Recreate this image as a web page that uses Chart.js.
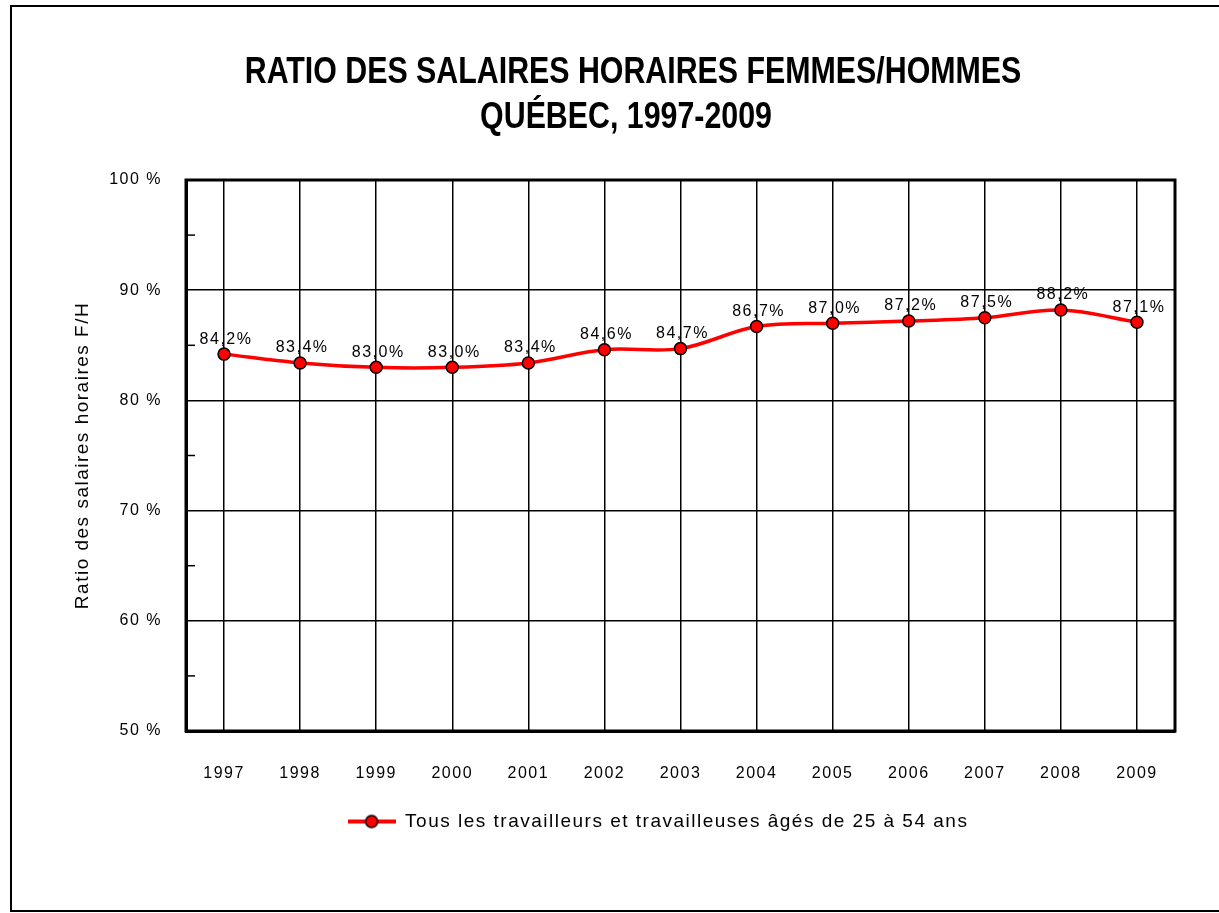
<!DOCTYPE html>
<html>
<head>
<meta charset="utf-8">
<script src="https://cdn.jsdelivr.net/npm/chart.js@4.4.0/dist/chart.umd.min.js"></script>
<style>
    html, body { margin: 0; padding: 0; background: #fff; }
    #wrap { width: 1219px; height: 913px; position: relative; }
</style>
</head>
<body>
<div id="wrap"><canvas id="ratioChart"></canvas></div>
<script>
// Données du graphique
const years = ['1997', '1998', '1999', '2000', '2001', '2002', '2003', '2004', '2005', '2006', '2007', '2008', '2009'];
const ratios = [84.2, 83.4, 83.0, 83.0, 83.4, 84.6, 84.7, 86.7, 87.0, 87.2, 87.5, 88.2, 87.1];
const yTicks = [50, 60, 70, 80, 90, 100];
const yMinorTicks = [55, 65, 75, 85, 95];
const seriesLabel = 'Tous les travailleurs et travailleuses âgés de 25 à 54 ans';
const titleLines = ['RATIO DES SALAIRES HORAIRES FEMMES/HOMMES', 'QUÉBEC, 1997-2009'];
const yTitle = 'Ratio des salaires horaires F/H';

const FONT = "'Liberation Sans', Arial, sans-serif";
const SPACING = '1.5px';

// Petit symbole de légende : ligne rouge + point
function legendMarker() {
    const c = document.createElement('canvas');
    c.width = 48;
    c.height = 16;
    const g = c.getContext('2d');
    g.strokeStyle = '#ff0000';
    g.lineWidth = 4;
    g.beginPath(); g.moveTo(0, 8); g.lineTo(48, 8); g.stroke();
    g.beginPath(); g.arc(24, 8, 6, 0, Math.PI * 2);
    g.fillStyle = '#ff0000'; g.fill();
    g.lineWidth = 1.5; g.strokeStyle = '#000'; g.stroke();
    return c;
}
const marker = legendMarker();

function centerBox(box, cx) {
    if (!box) return;
    const w = box.right - box.left;
    box.left = cx - w / 2;
    box.right = cx + w / 2;
}

// titre en police condensée (pas de police "narrow" installée -> échelle horizontale)
function drawTitleLine(ctx, text, cx, cy) {
    ctx.save();
    ctx.translate(cx, cy);
    ctx.scale(0.82, 1);
    ctx.fillText(text, 0, 0);
    ctx.restore();
}

const decor = {
    id: 'decor',
    beforeLayout(chart) {
        chart.ctx.letterSpacing = SPACING;
    },
    afterLayout(chart) {
        centerBox(chart.legend, 658);
    },
    beforeDraw(chart) {
        const ctx = chart.ctx;
        ctx.letterSpacing = SPACING;
        // cadre extérieur
        ctx.save();
        ctx.strokeStyle = '#000';
        ctx.lineWidth = 2;
        ctx.beginPath();
        ctx.moveTo(1230, 6);
        ctx.lineTo(11, 6);
        ctx.lineTo(11, 911);
        ctx.lineTo(1230, 911);
        ctx.stroke();
        // titre
        ctx.letterSpacing = '0px';
        ctx.font = 'bold 37px ' + FONT;
        ctx.fillStyle = '#000';
        ctx.textAlign = 'center';
        ctx.textBaseline = 'middle';
        drawTitleLine(ctx, titleLines[0], 633, 73);
        drawTitleLine(ctx, titleLines[1], 626, 118);
        ctx.restore();
    },
    beforeDatasetsDraw(chart) {
        const ctx = chart.ctx;
        const area = chart.chartArea;
        const y = chart.scales.y;
        ctx.save();
        ctx.strokeStyle = '#000';
        ctx.lineWidth = 1.5;
        yMinorTicks.forEach(v => {
            const py = y.getPixelForValue(v);
            ctx.beginPath();
            ctx.moveTo(area.left, py);
            ctx.lineTo(area.left + 9, py);
            ctx.stroke();
        });
        ctx.lineWidth = 3;
        ctx.strokeRect(area.left, area.top, area.right - area.left, area.bottom - area.top);
        ctx.restore();
    },
    afterDatasetsDraw(chart) {
        const ctx = chart.ctx;
        const meta = chart.getDatasetMeta(0);
        ctx.save();
        ctx.font = '16px ' + FONT;
        ctx.fillStyle = '#000';
        ctx.textAlign = 'center';
        ctx.textBaseline = 'middle';
        meta.data.forEach((pt, i) => {
            const txt = ratios[i].toFixed(1).replace('.', ',') + '%';
            ctx.fillText(txt, pt.x + 2, pt.y - 15);
        });
        ctx.restore();
    }
};

const ctx = document.getElementById('ratioChart').getContext('2d');
new Chart(ctx, {
    type: 'line',
    data: {
        labels: years,
        datasets: [{
            label: seriesLabel,
            data: ratios,
            borderColor: '#ff0000',
            borderWidth: 3.5,
            tension: 0.35,
            pointRadius: 6,
            pointHoverRadius: 6,
            pointBackgroundColor: '#ff0000',
            pointBorderColor: '#000',
            pointBorderWidth: 1.5
        }]
    },
    options: {
        responsive: true,
        maintainAspectRatio: false,
        animation: false,
        layout: { padding: { top: 180, right: 44, bottom: 72, left: 0 } },
        scales: {
            x: {
                offset: true,
                grid: { color: '#000', lineWidth: 1.5, drawTicks: false },
                border: { color: '#000', width: 3 },
                ticks: { color: '#000', padding: 33, font: { family: FONT, size: 16 } },
                afterFit: (scale) => { scale.height = 71; }
            },
            y: {
                min: 50,
                max: 100,
                afterBuildTicks: (scale) => { scale.ticks = yTicks.map(v => ({ value: v })); },
                grid: { color: '#000', lineWidth: 1.5, drawTicks: false },
                border: { color: '#000', width: 3 },
                ticks: {
                    color: '#000',
                    padding: 24,
                    font: { family: FONT, size: 16 },
                    callback: (v) => v + ' %'
                },
                title: {
                    display: true,
                    text: yTitle,
                    color: '#000',
                    font: { family: FONT, size: 19 },
                    padding: { top: 71, bottom: 0 }
                },
                afterFit: (scale) => { scale.width = 186; }
            }
        },
        plugins: {
            title: { display: false },
            legend: {
                position: 'bottom',
                labels: {
                    color: '#000',
                    font: { family: FONT, size: 19 },
                    usePointStyle: true,
                    pointStyleWidth: 48,
                    generateLabels: (chart) => {
                        const items = Chart.defaults.plugins.legend.labels.generateLabels(chart);
                        items.forEach(item => { item.pointStyle = marker; });
                        return items;
                    }
                }
            },
            tooltip: { enabled: false }
        }
    },
    plugins: [decor]
});
</script>
</body>
</html>
